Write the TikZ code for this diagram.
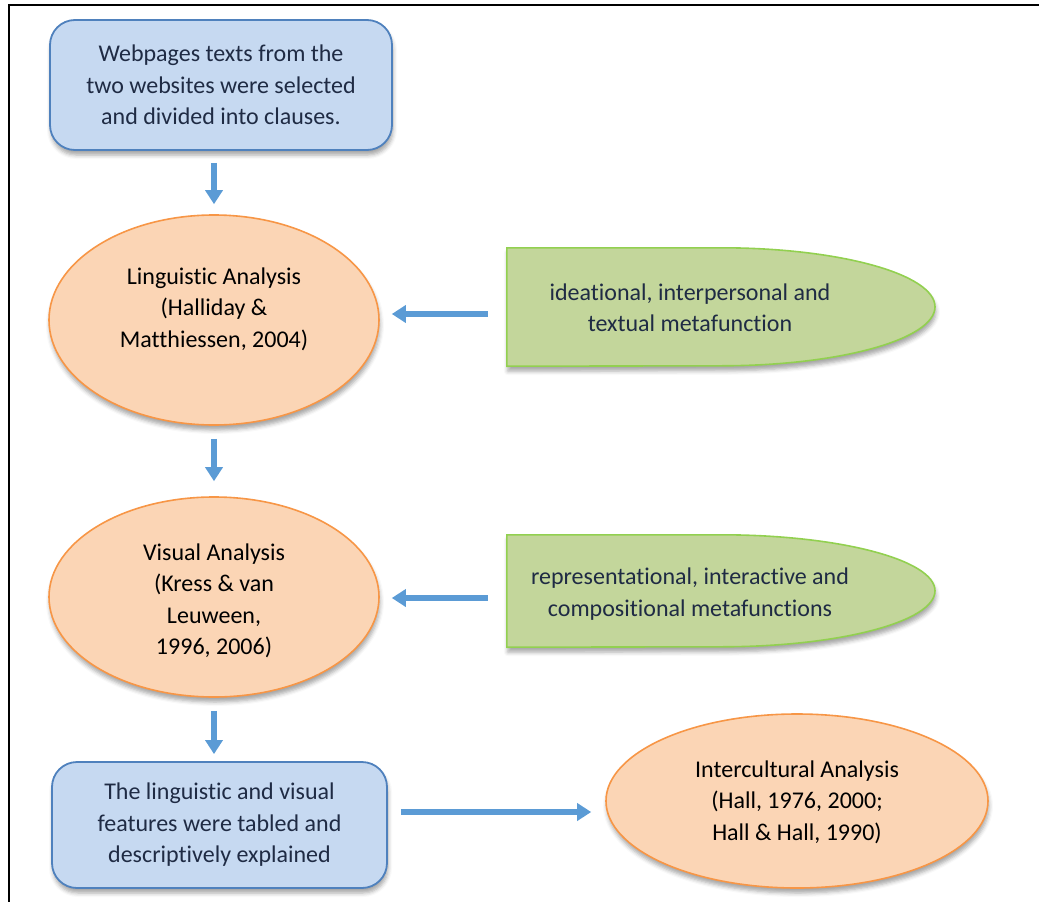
\documentclass[tikz,border=0pt]{standalone}
\usepackage{fontspec}
\setmainfont{Carlito}[Ligatures=NoCommon]
\usetikzlibrary{arrows.meta,shapes.geometric,shadows.blur}
\definecolor{boxfill}{HTML}{C6D9F1}
\definecolor{boxline}{HTML}{4F81BD}
\definecolor{peach}{HTML}{FBD5B5}
\definecolor{orangeline}{HTML}{F79646}
\definecolor{greenfill}{HTML}{C3D69B}
\definecolor{greenline}{HTML}{92D050}
\definecolor{arrowblue}{HTML}{5B9BD5}
\definecolor{navy}{HTML}{1F2B44}
\begin{document}
\begin{tikzpicture}[x=1pt,y=-1pt,
  txt/.style={font=\fontsize{24}{31.5}\selectfont, align=center, inner sep=0pt},
  shad/.style={blur shadow={shadow xshift=1pt, shadow yshift=-5pt, shadow blur radius=4pt, shadow opacity=35}},
  bluebox/.style={shad, draw=boxline, line width=1.8pt, fill=boxfill, rounded corners=25pt, inner sep=0pt, txt, text=navy},
  oval/.style={shad, ellipse, draw=orangeline, line width=1.6pt, fill=peach, inner sep=0pt},
  greenshape/.style={shad, draw=greenline, line width=1.6pt, fill=greenfill},
  region/.style={inner sep=0pt, draw=none},
  arr/.style={draw=arrowblue, line width=6pt, -{Triangle[width=17pt,length=14pt]}}
]
\useasboundingbox (0,0) rectangle (1039,902);
\draw[line width=2.5pt] (1039,5) -- (9,5) -- (9,902);

% top box
\node[bluebox, minimum width=342pt, minimum height=130pt] (b1) at (221,85)
  {Webpages texts from the\\two websites were selected\\and divided into clauses.};

% linguistic analysis
\node[oval, minimum width=330pt, minimum height=210pt] (e1) at (214,320) {};
\node[txt] (e1t) at (214,309) {Linguistic Analysis\\(Halliday \&\\Matthiessen, 2004)};

% green 1
\node[region, minimum width=428pt, minimum height=118pt] (g1) at (721,307) {};
\path[greenshape] (g1.north west) -- (g1.north) arc[start angle=90, end angle=-90, x radius=214pt, y radius=59pt] -- (g1.south west) -- cycle;
\node[txt, text=navy] (g1t) at (690,308) {ideational, interpersonal and\\textual metafunction};

% visual analysis
\node[oval, minimum width=330pt, minimum height=200pt] (e2) at (214,597) {};
\node[txt] (e2t) at (214,601) {Visual Analysis\\(Kress \& van\\Leuween,\\1996, 2006)};

% green 2
\node[region, minimum width=428pt, minimum height=112pt] (g2) at (721,591) {};
\path[greenshape] (g2.north west) -- (g2.north) arc[start angle=90, end angle=-90, x radius=214pt, y radius=56pt] -- (g2.south west) -- cycle;
\node[txt, text=navy] (g2t) at (690,594) {representational, interactive and\\compositional metafunctions};

% bottom box
\node[bluebox, minimum width=335pt, minimum height=126pt] (b2) at (219.5,825)
  {The linguistic and visual\\features were tabled and\\descriptively explained};

% intercultural
\node[oval, minimum width=382pt, minimum height=174pt] (e3) at (797,801) {};
\node[txt] (e3t) at (797,802) {Intercultural Analysis\\(Hall, 1976, 2000;\\Hall \& Hall, 1990)};

% connectors
\draw[arr, shorten <=12pt, shorten >=10pt] (b1.south -| e1.north) -- (e1.north);
\draw[arr, shorten <=13pt, shorten >=15pt] (e1.south) -- (e2.north);
\draw[arr, shorten <=13pt, shorten >=7pt] (e2.south) -- (b2.north -| e2.south);
\draw[arr, shorten <=19pt, shorten >=12pt] (g1.west |- 0,314) -- (e1.east |- 0,314);
\draw[arr, shorten <=19pt, shorten >=12pt] (g2.west |- 0,598) -- (e2.east |- 0,598);
\draw[arr, shorten <=13pt, shorten >=14pt] (b2.east |- 0,812) -- (e3.west |- 0,812);
\end{tikzpicture}
\end{document}
